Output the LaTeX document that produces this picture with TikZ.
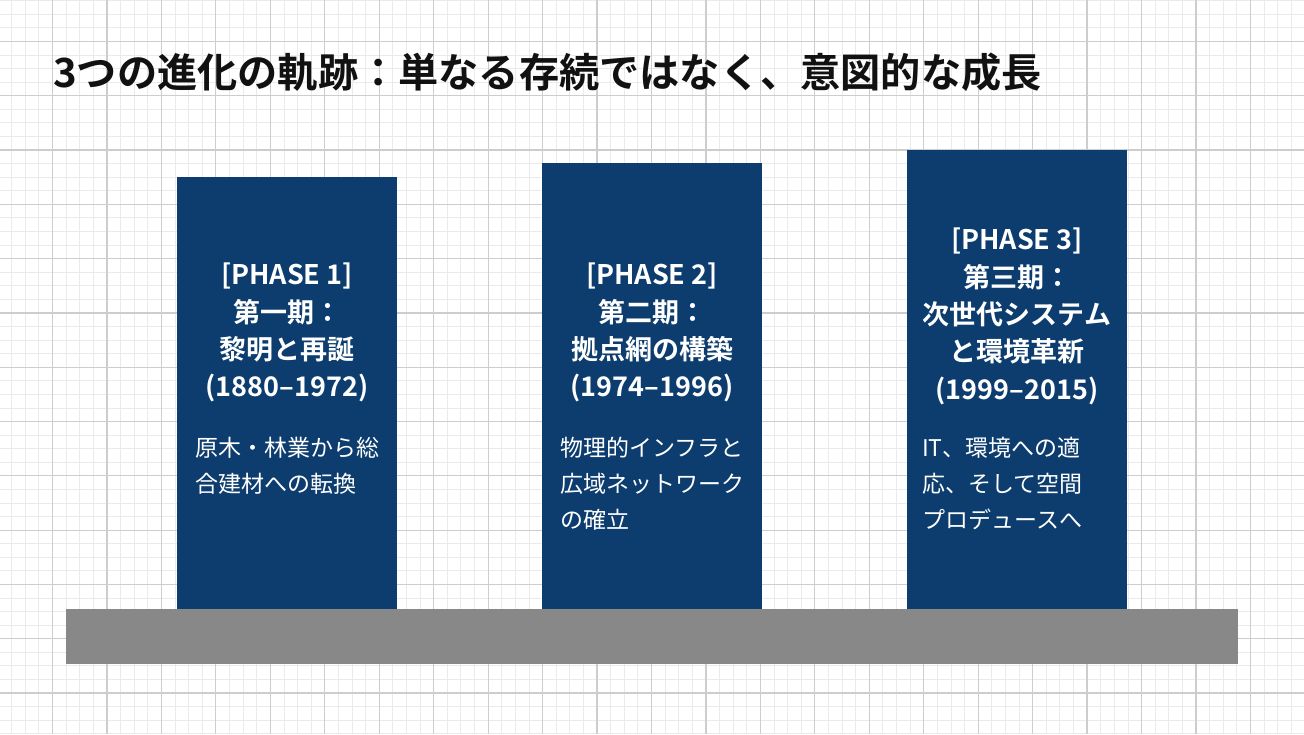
\documentclass[tikz,border=0pt]{standalone}
\usepackage{fontspec}
\setmainfont{Noto Sans CJK JP}[BoldFont={Noto Sans CJK JP Bold}]
\definecolor{navy}{RGB}{12,61,110}
\definecolor{basegray}{RGB}{136,136,136}
\definecolor{gridminor}{RGB}{234,234,234}
\definecolor{gridmajor}{RGB}{205,205,205}
\definecolor{titleink}{RGB}{17,17,17}
\begin{document}
\begin{tikzpicture}[x=1pt,y=-1pt,
  bar/.style={fill=navy,draw=none,minimum width=220pt,inner sep=0pt,anchor=north west},
  head/.style={text=white,font=\bfseries\fontsize{27}{37.3}\selectfont,align=center,inner sep=0pt,anchor=north},
  desc/.style={text=white,font=\fontsize{23}{36}\selectfont,align=left,inner sep=0pt,anchor=north west},
  minorline/.style={draw=gridminor,line width=0.8pt},
  majorline/.style={draw=gridmajor,line width=1.2pt}]
\useasboundingbox (0,0) rectangle (1304,734);
\fill[white] (0,0) rectangle (1304,734);
% grid
\foreach \i in {-4,...,92} \draw[minorline] ({52.5+13.6125*\i},0) -- ({52.5+13.6125*\i},734);
\foreach \j in {-12,...,43} \draw[minorline] (0,{150+13.575*\j}) -- (1304,{150+13.575*\j});
\foreach \i in {-1,...,23} \draw[majorline] ({52.5+54.45*\i},0) -- ({52.5+54.45*\i},734);
\foreach \j in {-3,...,10} \draw[majorline] (0,{150+54.3*\j}) -- (1304,{150+54.3*\j});
% title
\node[anchor=base west,inner sep=0pt,text=titleink,font=\bfseries\fontsize{40.2}{48}\selectfont] (title) at (53,87) {3つの進化の軌跡：単なる存続ではなく、意図的な成長};
% bars
\node[bar,minimum height=432pt] (b1) at (177,177) {};
\node[bar,minimum height=446pt] (b2) at (542,163) {};
\node[bar,minimum height=459pt] (b3) at (907,150) {};
\fill[basegray] (66,609) rectangle (1238,664);
\node[inner sep=0pt,minimum width=1172pt,minimum height=55pt,anchor=north west] (base) at (66,609) {};
% headings
\node[head] (h1) at (287,263) {[PHASE 1]\\第一期：\\黎明と再誕\\(1880–1972)};
\node[head] (h2) at (652,263) {[PHASE 2]\\第二期：\\拠点網の構築\\(1974–1996)};
\node[head] (h3) at (1017,228) {[PHASE 3]\\第三期：\\次世代システム\\と環境革新\\(1999–2015)};
% descriptions
\node[desc] (d1) at (195,437) {原木・林業から総\\合建材への転換};
\node[desc] (d2) at (560,437) {物理的インフラと\\広域ネットワーク\\の確立};
\node[desc] (d3) at (922,437) {IT、環境への適\\応、そして空間\\プロデュースへ};
\end{tikzpicture}
\end{document}
